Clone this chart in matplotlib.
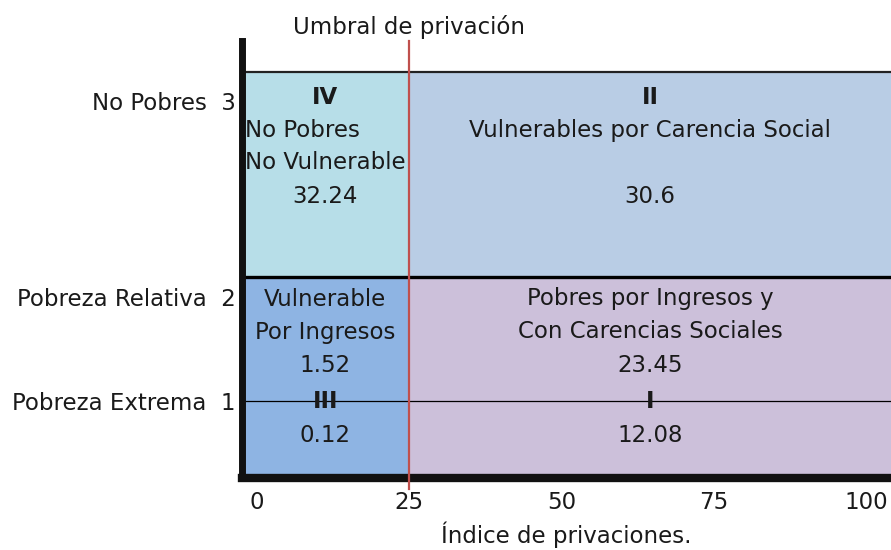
import matplotlib
matplotlib.use("Agg")
import matplotlib.pyplot as plt
from matplotlib.transforms import blended_transform_factory

# ---- data ----
threshold = 25                       # Umbral de privación
x_ticks = [0, 25, 50, 75, 100]
x_tick_labels = ["0", "25", "50", "75", "100"]
level_names = ["Pobreza Extrema", "Pobreza Relativa", "No Pobres"]
level_numbers = [1, 2, 3]

quad_names = ["IV", "II", "III", "I"]
quad_titles = [["No Pobres", "No Vulnerable"],
               ["Vulnerables por Carencia Social"],
               ["Vulnerable", "Por Ingresos"],
               ["Pobres por Ingresos y", "Con Carencias Sociales"]]
upper_values = [32.24, 30.6, 1.52, 23.45]    # IV, II, upper part of III, I
extreme_values = [0.12, 12.08]               # lower part of III, I

# ---- layout (vertical band geometry) ----
xlim = (-2.5, 104)
ylim = (0, 4.365)
y_bottom, y_extreme, y_split, y_top = 0.0, 0.765, 2.005, 4.055
level_tick_pos = [0.765, 1.805, 3.765]

colors = {"IV": "#B7DEE8", "II": "#B9CDE5", "III": "#8EB4E3", "I": "#CCC0DA"}
txt_col = "#1a1a1a"
fs = 16.5
plt.rcParams["font.family"] = ["DejaVu Sans"]

fig = plt.figure(figsize=(8.91, 5.5), dpi=100)
ax = fig.add_axes([241.5 / 891, 1 - 477.5 / 550, 1 - 241.5 / 891, (477.5 - 41) / 550])
ax.set_xlim(*xlim)
ax.set_ylim(*ylim)

# quadrant fills
ax.fill_between([xlim[0], threshold], y_split, y_top, color=colors["IV"], lw=0)
ax.fill_between([threshold, xlim[1]], y_split, y_top, color=colors["II"], lw=0)
ax.fill_between([xlim[0], threshold], y_bottom, y_split, color=colors["III"], lw=0)
ax.fill_between([threshold, xlim[1]], y_bottom, y_split, color=colors["I"], lw=0)

# lines
ax.plot(xlim, [y_top, y_top], color="#222222", lw=1.6, solid_capstyle="butt")
ax.plot(xlim, [y_split, y_split], color="#000000", lw=2.4, solid_capstyle="butt")
ax.plot(xlim, [y_extreme, y_extreme], color="#000000", lw=0.9)
ax.plot([threshold, threshold], [-0.11, ylim[1]], color="#C0504D", lw=1.6,
        clip_on=False, zorder=5)

# texts
left_cx = (xlim[0] + threshold) / 2
right_cx = (threshold + xlim[1]) / 2
step = 0.33
first_top = y_top - 0.25
first_low = y_split - 0.22

# IV
ax.text(left_cx, first_top, quad_names[0], ha="center", va="center", fontsize=fs,
        fontweight="bold", color=txt_col)
ax.text(left_cx, first_top - 1.5 * step, "\n".join(quad_titles[0]), ha="center",
        va="center", multialignment="left", fontsize=fs, color=txt_col, linespacing=1.5)
ax.text(left_cx, first_top - 3 * step, f"{upper_values[0]}", ha="center", va="center",
        fontsize=fs, color=txt_col)
# II
ax.text(right_cx, first_top, quad_names[1], ha="center", va="center", fontsize=fs,
        fontweight="bold", color=txt_col)
ax.text(right_cx, first_top - step, quad_titles[1][0], ha="center", va="center",
        fontsize=fs, color=txt_col)
ax.text(right_cx, first_top - 3 * step, f"{upper_values[1]}", ha="center", va="center",
        fontsize=fs, color=txt_col)
# III and I (upper part)
for cx, lines, val in [(left_cx, quad_titles[2], upper_values[2]),
                       (right_cx, quad_titles[3], upper_values[3])]:
    for i, ln in enumerate(lines):
        ax.text(cx, first_low - i * step, ln, ha="center", va="center",
                fontsize=fs, color=txt_col)
    ax.text(cx, first_low - 2 * step, f"{val}", ha="center", va="center",
            fontsize=fs, color=txt_col)
# roman numerals on the extreme-poverty line
ax.text(left_cx, y_extreme, quad_names[2], ha="center", va="center", fontsize=fs,
        fontweight="bold", color=txt_col, zorder=6)
ax.text(right_cx, y_extreme, quad_names[3], ha="center", va="center", fontsize=fs,
        fontweight="bold", color=txt_col, zorder=6)
for cx, val in zip([left_cx, right_cx], extreme_values):
    ax.text(cx, y_extreme - 0.35, f"{val}", ha="center", va="center",
            fontsize=fs, color=txt_col)

# threshold label
trans = blended_transform_factory(ax.transData, fig.transFigure)
ax.text(threshold, 1 - 27 / 550, "Umbral de privación", ha="center", va="center",
        fontsize=fs, color=txt_col, transform=trans)

# axes styling
for s in ["top", "right"]:
    ax.spines[s].set_visible(False)
ax.spines["left"].set_linewidth(5.0)
ax.spines["bottom"].set_linewidth(6.0)
ax.spines["left"].set_color("#111111")
ax.spines["bottom"].set_color("#111111")

ax.set_xticks(x_ticks)
ax.set_xticklabels(x_tick_labels)
ax.set_yticks(level_tick_pos)
ax.set_yticklabels([f"{n}  {k}" for n, k in zip(level_names, level_numbers)])
ax.tick_params(axis="both", length=0, labelsize=fs, colors=txt_col)
ax.tick_params(axis="x", pad=10)
ax.tick_params(axis="y", pad=4)
ax.set_xlabel("Índice de privaciones.", fontsize=fs, color=txt_col, labelpad=5)

fig.savefig("out.png", dpi=100)
